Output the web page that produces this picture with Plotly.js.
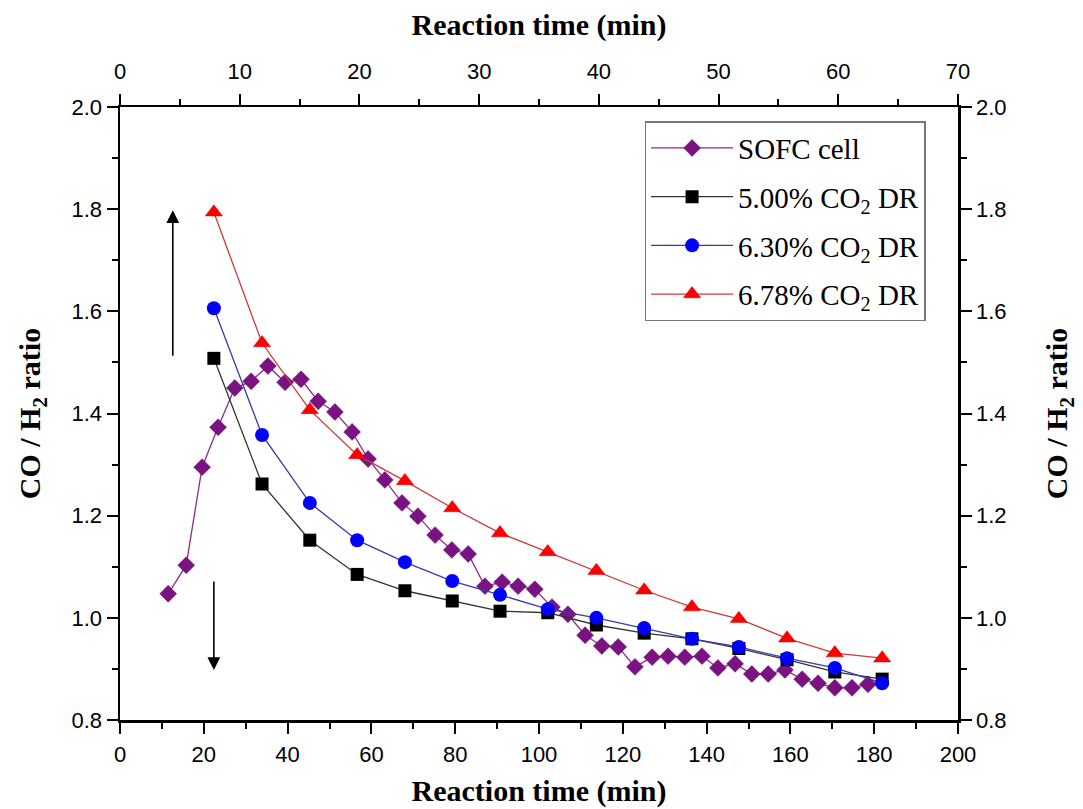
<!DOCTYPE html>
<html>
<head>
<meta charset="utf-8">
<script src="https://cdn.plot.ly/plotly-3.0.1.min.js"></script>
<style>html,body{margin:0;padding:0;background:#fff;}#chart{width:1083px;height:809px;}</style>
</head>
<body>
<div id="chart"></div>
<script>
// SOFC cell series
const sofcTime = [11.5,15.8,19.6,23.4,27.4,31.3,35.3,39.4,43.2,47.3,51.3,55.4,59.2,63.2,67.3,71.1,75.2,79.2,83.1,87.1,91.2,95.0,99.0,103.1,106.9,111.0,115.0,118.9,122.9,127.0,130.8,134.8,138.9,142.7,146.8,150.8,154.7,158.7,162.8,166.6,170.6,174.7,178.5];
const sofcRatio = [1.047,1.103,1.295,1.373,1.450,1.463,1.493,1.461,1.467,1.424,1.403,1.364,1.311,1.270,1.225,1.199,1.162,1.133,1.125,1.062,1.070,1.062,1.056,1.021,1.007,0.966,0.945,0.943,0.904,0.923,0.925,0.923,0.925,0.902,0.910,0.890,0.890,0.898,0.880,0.872,0.863,0.863,0.870];

// Dry reforming series (shared time points)
const drTime = [22.4,33.9,45.3,56.6,68.0,79.3,90.7,102.1,113.7,125.1,136.5,147.7,159.2,170.6,181.9];
const dr500 = [1.508,1.262,1.152,1.085,1.053,1.033,1.013,1.010,0.986,0.970,0.959,0.940,0.918,0.894,0.880];
const dr630 = [1.606,1.358,1.225,1.152,1.109,1.072,1.045,1.017,1.000,0.980,0.959,0.943,0.921,0.902,0.872];
const dr678 = [1.794,1.538,1.407,1.319,1.268,1.215,1.166,1.129,1.092,1.054,1.021,0.998,0.960,0.931,0.921];

const seriesNames = ['SOFC cell','5.00% CO<sub>2</sub> DR','6.30% CO<sub>2</sub> DR','6.78% CO<sub>2</sub> DR'];

// Arrow annotations (data coordinates)
const upArrow = {x:12.6, from:1.510, to:1.798};
const downArrow = {x:22.4, from:1.074, to:0.898};

function tickFont(sz){ return {family:'Liberation Sans, Arial, sans-serif', size:sz, color:'#000'}; }
function titleFont(){ return {family:'Liberation Serif, Times New Roman, serif', size:30, color:'#000', weight:'bold'}; }
function minorTicks(d){ return {dtick:d, ticks:'outside', ticklen:6, tickwidth:2, tickcolor:'#000'}; }

const traces = [
  {x:sofcTime, y:sofcRatio, name:seriesNames[0], legendgroup:'g1', mode:'lines+markers',
   line:{color:'#8a2d8a', width:1.3},
   marker:{symbol:'diamond', size:13, color:'#7a1282', line:{color:'#6a0f72', width:0.5}}},
  {x:drTime, y:dr500, name:seriesNames[1], legendgroup:'g2', mode:'lines+markers',
   line:{color:'#333333', width:1.3},
   marker:{symbol:'square', size:13, color:'#000000'}},
  {x:drTime, y:dr630, name:seriesNames[2], legendgroup:'g3', mode:'lines+markers',
   line:{color:'#3a3aa8', width:1.3},
   marker:{symbol:'circle', size:14, color:'#0000ff'}},
  {x:drTime, y:dr678, name:seriesNames[3], legendgroup:'g4', mode:'lines+markers',
   line:{color:'#cc3a3a', width:1.3},
   marker:{symbol:'triangle-up', size:15, color:'#ff0000', line:{color:'#d00000', width:0.5}}},
  {x:[], y:[], xaxis:'x2', yaxis:'y2', showlegend:false, hoverinfo:'skip'}
];

function axisBase(sz){
  return {
    showline:true, linecolor:'#000', linewidth:2.5,
    ticks:'outside', ticklen:11, tickwidth:2, tickcolor:'#000',
    showgrid:false, zeroline:false, tickfont:tickFont(sz)
  };
}

const layout = {
  width:1083, height:809,
  margin:{l:120, r:125, t:107, b:89},
  paper_bgcolor:'#fff', plot_bgcolor:'#fff',
  showlegend:true,
  legend:{x:0.626, y:0.977, xanchor:'left', yanchor:'top',
    bgcolor:'#fff', bordercolor:'#777', borderwidth:1.5,
    font:{family:'Liberation Serif, Times New Roman, serif', size:29, color:'#000'},
    tracegroupgap:8, itemwidth:82},
  xaxis:Object.assign(axisBase(22), {
    range:[0,200], dtick:20, tick0:0, ticklabelstandoff:2,
    minor:minorTicks(10),
    title:{text:'Reaction time (min)', font:titleFont(), standoff:14}
  }),
  xaxis2:Object.assign(axisBase(22), {
    overlaying:'x', side:'top', anchor:'y',
    range:[0,70], dtick:10, tick0:0, ticklabelstandoff:6,
    minor:minorTicks(5),
    title:{text:'Reaction time (min)', font:titleFont(), standoff:14}
  }),
  yaxis:Object.assign(axisBase(22), {
    range:[0.8,2.0], dtick:0.2, tick0:0.8, tickformat:'.1f',
    minor:minorTicks(0.1),
    title:{text:'CO / H<sub>2</sub> ratio', font:titleFont(), standoff:22}
  }),
  yaxis2:Object.assign(axisBase(22), {
    overlaying:'y', side:'right', anchor:'x',
    range:[0.8,2.0], dtick:0.2, tick0:0.8, tickformat:'.1f',
    minor:minorTicks(0.1),
    title:{text:'CO / H<sub>2</sub> ratio', font:titleFont(), standoff:41}
  }),
  annotations:[
    {x:upArrow.x, y:upArrow.to, ax:upArrow.x, ay:upArrow.from, xref:'x', yref:'y', axref:'x', ayref:'y',
     text:'', showarrow:true, arrowhead:2, arrowsize:1.6, arrowwidth:1.6, arrowcolor:'#000'},
    {x:downArrow.x, y:downArrow.to, ax:downArrow.x, ay:downArrow.from, xref:'x', yref:'y', axref:'x', ayref:'y',
     text:'', showarrow:true, arrowhead:2, arrowsize:1.6, arrowwidth:1.6, arrowcolor:'#000'}
  ]
};

Plotly.newPlot('chart', traces, layout, {displayModeBar:false, staticPlot:true});
</script>
</body>
</html>
